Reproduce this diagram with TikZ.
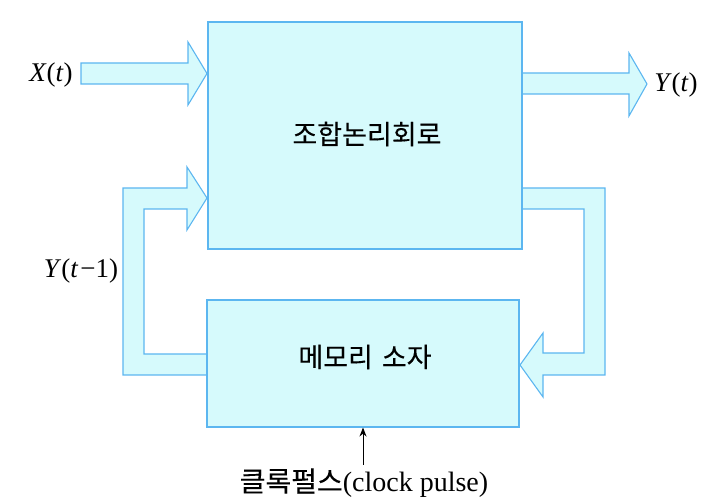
\documentclass[tikz,border=0pt]{standalone}
\usepackage{fontspec}
\setmainfont{Liberation Serif}
\newfontfamily\kr[FakeBold=0.2]{Noto Sans CJK KR}
\usetikzlibrary{backgrounds,arrows.meta}
\definecolor{cfill}{RGB}{214,250,252}
\definecolor{cline}{RGB}{92,182,240}
\begin{document}
\begin{tikzpicture}[x=1pt,y=-1pt,
  blk/.style={draw=cline, fill=cfill, line width=1.1pt, line join=miter},
  boxtxt/.style={font=\kr\fontsize{27}{30}\selectfont},
  lbl/.style={font=\fontsize{27}{30}\selectfont, inner sep=0}]
\useasboundingbox (0,0) rectangle (726,502);
\node[blk, minimum width=314pt, minimum height=227pt, inner sep=0] (comb) at (365,135.5) {};
\node[boxtxt, inner sep=0] (combt) at (367,134) {조합논리회로};
\node[blk, minimum width=312pt, minimum height=127pt, inner sep=0] (mem) at (363,363.5) {};
\node[boxtxt, inner sep=0] (memt) at (365,357) {메모리\hspace{9pt}소자};
\begin{scope}[on background layer]
\draw[blk] (81,63) -- (188,63) -- (188,42) -- (207,73.5) -- (188,105) -- (188,84) -- (81,84) -- cycle;
\draw[blk] (522,73) -- (629,73) -- (629,53) -- (647,84) -- (629,116) -- (629,94) -- (522,94) -- cycle;
\draw[blk] (207,354) -- (144,354) -- (144,209) -- (187,209) -- (187,230) -- (207,198) -- (187,167) -- (187,188) -- (123,188) -- (123,375) -- (207,375) -- cycle;
\draw[blk] (522,188) -- (605,188) -- (605,375) -- (543,375) -- (543,397) -- (520,365) -- (543,333) -- (543,353) -- (584,353) -- (584,209) -- (522,209) -- cycle;
\end{scope}
\node[lbl] (xl) at (51,75) {\textit{X}(\textit{t})};
\node[lbl] (yl) at (676,85) {\textit{Y}(\textit{t})};
\node[lbl] (yl1) at (81,271) {\textit{Y}(\textit{t}\hspace{2pt}−1)};
\node[lbl, font=\fontsize{28}{30}\selectfont] (clkl) at (364,483) {{\kr\fontsize{28}{30}\selectfont 클록펄스}(clock pulse)};
\coordinate (clk) at (363,465);
\draw[-{Stealth[length=9pt,width=7pt]}, line width=0.9pt] (clk) -- (clk |- mem.south);
\end{tikzpicture}
\end{document}
